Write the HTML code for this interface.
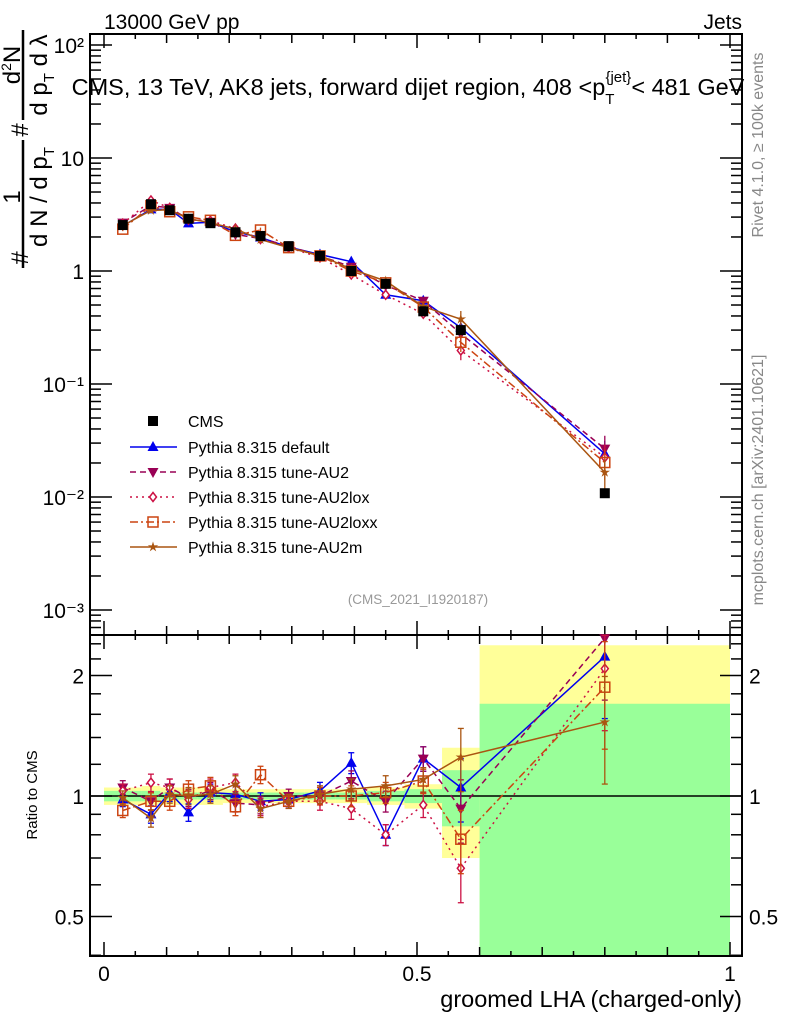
<!DOCTYPE html>
<html><head><meta charset="utf-8"><style>
body{margin:0;background:#fff}
svg{display:block;font-family:"Liberation Sans",Arial,sans-serif}
</style></head><body>
<svg id="chart" width="786" height="1024" viewBox="0 0 786 1024" xmlns="http://www.w3.org/2000/svg">
<rect width="786" height="1024" fill="#fff"/>
<g id="bands"></g>
<g id="axes"></g>
<g id="series"></g>
<text x="104" y="29" font-size="21">13000 GeV pp</text>
<text x="742" y="29" font-size="21" text-anchor="end">Jets</text>
<text x="408" y="95" font-size="23.5" text-anchor="middle">CMS, 13 TeV, AK8 jets, forward dijet region, 408 &lt;p<tspan font-size="15" dy="9">T</tspan><tspan font-size="15" dy="-22" dx="-9">{jet}</tspan><tspan dy="13">&lt; 481 GeV</tspan></text>
<text x="418" y="604" font-size="13.5" fill="#999" text-anchor="middle">(CMS_2021_I1920187)</text>
<text transform="translate(763,145) rotate(-90)" font-size="16" fill="#888" text-anchor="middle">Rivet 4.1.0, ≥ 100k events</text>
<text transform="translate(763,480) rotate(-90)" font-size="16" fill="#888" text-anchor="middle">mcplots.cern.ch [arXiv:2401.10621]</text>
<text x="742" y="1007" font-size="23.5" text-anchor="end">groomed LHA (charged-only)</text>
<text transform="translate(37,795) rotate(-90)" font-size="15" text-anchor="middle">Ratio to CMS</text>
<g font-size="24">
<text transform="translate(28,258) rotate(-90)" text-anchor="middle">#</text>
<text transform="translate(20,197) rotate(-90)" text-anchor="middle">1</text>
<line x1="23" y1="140" x2="23" y2="268" stroke="#000" stroke-width="2.5"/>
<text transform="translate(47,197) rotate(-90)" text-anchor="middle">d N / d p<tspan font-size="15" dy="7">T</tspan></text>
<text transform="translate(28,130) rotate(-90)" text-anchor="middle">#</text>
<text transform="translate(20,65) rotate(-90)" text-anchor="middle">d<tspan font-size="14" dy="-9">2</tspan><tspan dy="9">N</tspan></text>
<line x1="23" y1="30" x2="23" y2="120" stroke="#000" stroke-width="2.5"/>
<text transform="translate(47,75) rotate(-90)" text-anchor="middle">d p<tspan font-size="15" dy="7">T</tspan><tspan dy="-7">  d λ</tspan></text>
</g>
<g id="legend"></g>
</svg>
<script>
const binEdges=[0,0.06,0.09,0.12,0.15,0.19,0.23,0.27,0.32,0.37,0.42,0.48,0.54,0.6,1.0];
const binCenters=[0.03,0.075,0.105,0.135,0.17,0.21,0.25,0.295,0.345,0.395,0.45,0.51,0.57,0.8];
const cmsValues=[2.55,3.9,3.45,2.9,2.65,2.2,2.04,1.66,1.36,1.0,0.77,0.44,0.30,0.0108];
const cmsTotUp=[1.05,1.06,1.05,1.05,1.05,1.04,1.04,1.04,1.04,1.04,1.05,1.07,1.32,2.38];
const cmsTotDn=[0.95,0.95,0.95,0.95,0.95,0.96,0.96,0.96,0.96,0.96,0.95,0.93,0.70,0.40];
const cmsStatUp=[1.03,1.03,1.02,1.02,1.02,1.02,1.02,1.02,1.02,1.02,1.03,1.04,1.16,1.70];
const cmsStatDn=[0.97,0.97,0.98,0.98,0.98,0.98,0.98,0.98,0.98,0.98,0.97,0.96,0.84,0.40];
const ratioDefault=[0.98,0.90,1.02,0.91,1.02,1.01,0.97,0.98,1.03,1.21,0.80,1.24,1.05,2.23];
const ratioAU2=[1.05,0.97,1.05,0.99,1.03,0.96,0.95,1.0,1.0,1.09,0.97,1.24,0.93,2.48];
const ratioAU2lox=[1.03,1.08,1.05,0.98,1.05,1.08,0.94,0.97,0.97,0.93,0.80,0.95,0.66,2.08];
const ratioAU2loxx=[0.92,0.97,0.97,1.04,1.06,0.94,1.13,0.97,1.0,1.0,1.02,1.09,0.78,1.87];
const ratioAU2m=[0.99,0.88,1.01,1.0,1.01,1.07,0.93,0.97,1.01,1.04,1.06,1.10,1.25,1.53];
const mcRelErr=[0.04,0.05,0.05,0.05,0.05,0.05,0.05,0.04,0.05,0.06,0.06,0.07,0.18,0.3];
const topTickLabels=["10⁻³","10⁻²","10⁻¹","1","10","10²"];
const ratioTickLabels=["0.5","1","2"];
const xTickLabels=["0","0.5","1"];

const NS="http://www.w3.org/2000/svg";
const L=90,R=742,T1=34,B1=635,B2=956;
const X=v=>104+v*626;
const Yt=v=>271-113*Math.log10(v);
const Yr=v=>796-120.5*Math.log2(v);
function mk(tag,attrs,parent){const e=document.createElementNS(NS,tag);for(const k in attrs)e.setAttribute(k,attrs[k]);parent.appendChild(e);return e;}
const bands=document.getElementById('bands'),axes=document.getElementById('axes'),ser=document.getElementById('series'),leg=document.getElementById('legend');
const clampR=v=>Math.min(Math.max(v,0.4),2.52);

for(let i=0;i<binCenters.length;i++){
  const x1=X(binEdges[i]),x2=X(binEdges[i+1]);
  const y=mk('rect',{x:x1,y:Yr(clampR(cmsTotUp[i])),width:x2-x1,height:Yr(clampR(cmsTotDn[i]))-Yr(clampR(cmsTotUp[i])),fill:'#ffff99'},bands);
  
  
  const g=mk('rect',{x:x1,y:Yr(clampR(cmsStatUp[i])),width:x2-x1,height:Yr(clampR(cmsStatDn[i]))-Yr(clampR(cmsStatUp[i])),fill:'#99ff99'},bands);
  
  
}
mk('line',{x1:L,x2:R,y1:Yr(1),y2:Yr(1),stroke:'#000','stroke-width':1.5},bands);

mk('rect',{x:L,y:T1,width:R-L,height:B1-T1,fill:'none',stroke:'#000','stroke-width':2},axes);
mk('rect',{x:L,y:B1,width:R-L,height:B2-B1,fill:'none',stroke:'#000','stroke-width':2},axes);
for(let k=0;k<=20;k++){
  const v=k*0.05,x=X(v);
  const len=(k%10===0)?14:(k%2===0?9:5);
  [[T1,1],[B1,-1],[B1,1],[B2,-1]].forEach(([y,d])=>mk('line',{x1:x,x2:x,y1:y,y2:y+d*len,stroke:'#000','stroke-width':1.5},axes));
}
xTickLabels.forEach((t,i)=>{const e=mk('text',{x:X(i*0.5),y:981,'font-size':21,'text-anchor':'middle'},axes);e.textContent=t;
  
  });
for(let d=-4;d<=2;d++){
  for(let m=1;m<10;m++){
    const v=m*Math.pow(10,d),y=Yt(v);
    if(y<T1||y>B1)continue;
    const len=m===1?22:11;
    mk('line',{x1:L,x2:L+len,y1:y,y2:y,stroke:'#000','stroke-width':1.5},axes);
    mk('line',{x1:R,x2:R-len,y1:y,y2:y,stroke:'#000','stroke-width':1.5},axes);
  }
}
topTickLabels.forEach((t,i)=>{const e=mk('text',{x:84,y:Yt(Math.pow(10,i-3))+8,'font-size':21,'text-anchor':'end'},axes);e.textContent=t;
  
  });
[0.4,0.5,0.6,0.7,0.8,0.9,1,1.2,1.4,1.6,1.8,2,2.2,2.4].forEach(v=>{
  const y=Yr(v),len=(v===0.5||v===1||v===2)?22:11;
  mk('line',{x1:L,x2:L+len,y1:y,y2:y,stroke:'#000','stroke-width':1.5},axes);
  mk('line',{x1:R,x2:R-len,y1:y,y2:y,stroke:'#000','stroke-width':1.5},axes);
});
ratioTickLabels.forEach(t=>{const v=parseFloat(t);
  const a=mk('text',{x:84,y:Yr(v)+8,'font-size':21,'text-anchor':'end'},axes);a.textContent=t;
  
  
  const b=mk('text',{x:749,y:Yr(v)+8,'font-size':21},axes);b.textContent=t;
  
  });

function marker(type,x,y,c,parent){
  const s=5;
  if(type==='sq')return mk('rect',{x:x-s,y:y-s,width:2*s,height:2*s,fill:'#000'},parent);
  if(type==='up')return mk('polygon',{points:`${x},${y-6} ${x-5.5},${y+4} ${x+5.5},${y+4}`,fill:c},parent);
  if(type==='dn')return mk('polygon',{points:`${x},${y+6} ${x-5.5},${y-4} ${x+5.5},${y-4}`,fill:c},parent);
  if(type==='dia')return mk('polygon',{points:`${x},${y-4.5} ${x+3.5},${y} ${x},${y+4.5} ${x-3.5},${y}`,fill:'#fff',stroke:c,'stroke-width':1.5},parent);
  if(type==='osq')return mk('rect',{x:x-5,y:y-5,width:10,height:10,fill:'none',stroke:c,'stroke-width':1.5},parent);
  if(type==='star'){let p=[];for(let k=0;k<10;k++){const r=k%2?2:5.5,a=-Math.PI/2+k*Math.PI/5;p.push((x+r*Math.cos(a)).toFixed(1)+','+(y+r*Math.sin(a)).toFixed(1));}
    return mk('polygon',{points:p.join(' '),fill:c},parent);}
}
const seriesDefs=[
 {name:'default',label:'Pythia 8.315 default',r:ratioDefault,c:'#0000ee',dash:'',m:'up'},
 {name:'tune-AU2',label:'Pythia 8.315 tune-AU2',r:ratioAU2,c:'#990055',dash:'6,4',m:'dn'},
 {name:'tune-AU2lox',label:'Pythia 8.315 tune-AU2lox',r:ratioAU2lox,c:'#cc1144',dash:'2,4',m:'dia'},
 {name:'tune-AU2loxx',label:'Pythia 8.315 tune-AU2loxx',r:ratioAU2loxx,c:'#cc4411',dash:'8,3,2,3',m:'osq'},
 {name:'tune-AU2m',label:'Pythia 8.315 tune-AU2m',r:ratioAU2m,c:'#aa5511',dash:'',m:'star'}
];
seriesDefs.forEach(sd=>{
  const g=mk('g',{},ser);
  
  
  const topPts=[],botPts=[];
  sd.r.forEach((r,i)=>{
    const v=r*cmsValues[i],x=X(binCenters[i]);
    topPts.push(x+','+Yt(v));botPts.push(x+','+Yr(clampR(r)));
  });
  const attrs={fill:'none',stroke:sd.c,'stroke-width':1.5};if(sd.dash)attrs['stroke-dasharray']=sd.dash;
  mk('polyline',Object.assign({points:topPts.join(' ')},attrs),g);
  mk('polyline',Object.assign({points:botPts.join(' ')},attrs),g);
  sd.r.forEach((r,i)=>{
    const v=r*cmsValues[i],x=X(binCenters[i]),e=mcRelErr[i];
    mk('line',{x1:x,x2:x,y1:Yt(v*(1+e)),y2:Yt(v*(1-e)),stroke:sd.c,'stroke-width':1.3},g);
    mk('line',{x1:x,x2:x,y1:Yr(clampR(r*(1+e))),y2:Yr(clampR(r*(1-e))),stroke:sd.c,'stroke-width':1.3},g);
    [r*(1+e),r*(1-e)].forEach(q=>mk('line',{x1:x-3,x2:x+3,y1:Yr(clampR(q)),y2:Yr(clampR(q)),stroke:sd.c,'stroke-width':1.3},g));
    const a=marker(sd.m,x,Yt(v),sd.c,g);
    
    
    const b=marker(sd.m,x,Yr(clampR(r)),sd.c,g);
    
    
  });
});
cmsValues.forEach((v,i)=>{
  const x=X(binCenters[i]);
  const m=marker('sq',x,Yt(v),'#000',ser);
  
  
});
const ly=[421,447,472,497,522,547];
const cm=marker('sq',153,ly[0],'#000',leg);


const ct=mk('text',{x:188,y:ly[0]+6,'font-size':16},leg);ct.textContent='CMS';


seriesDefs.forEach((sd,k)=>{
  const y=ly[k+1];
  const attrs={x1:130,x2:177,y1:y,y2:y,stroke:sd.c,'stroke-width':1.5};if(sd.dash)attrs['stroke-dasharray']=sd.dash;
  mk('line',attrs,leg);
  marker(sd.m,153,y,sd.c,leg);
  const t=mk('text',{x:188,y:y+6,'font-size':16},leg);t.textContent=sd.label;
  
  
});
</script>
</body></html>
